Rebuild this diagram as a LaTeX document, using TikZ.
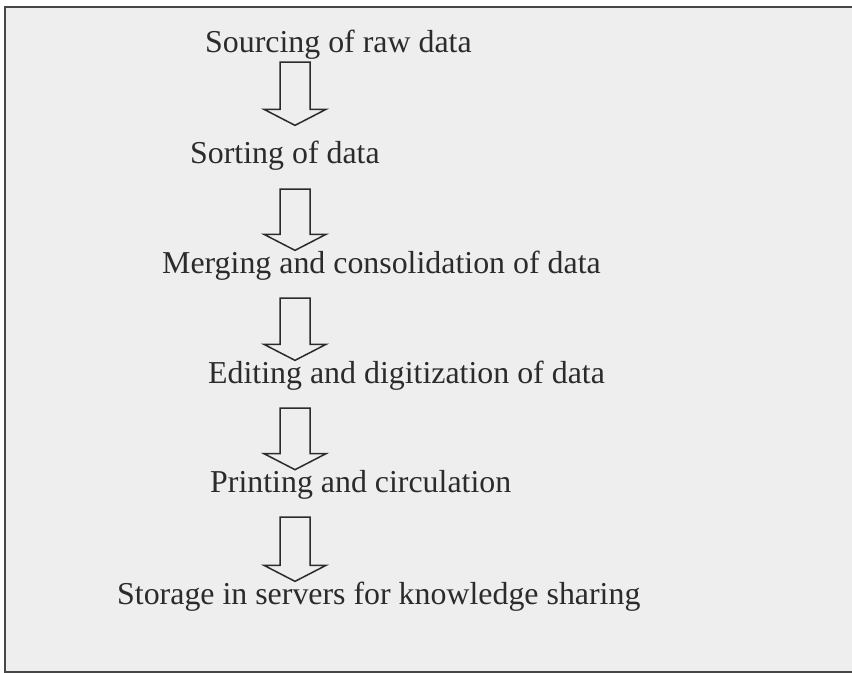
\documentclass[tikz,border=0pt]{standalone}
\usepackage{fontspec}
\setmainfont{Liberation Serif}
\usetikzlibrary{calc}

\definecolor{paper}{gray}{0.935}
\definecolor{ink}{gray}{0.17}
\definecolor{rule}{gray}{0.28}

\tikzset{
  stagetext/.style={anchor=base west,inner sep=0pt,text=ink,
    font=\fontsize{32}{38}\selectfont},
  flowarrow/.style={draw=ink,line width=1.5bp,line join=miter},
  frameline/.style={draw=rule,line width=2.2bp},
}

% hollow block arrow from #1 (tail) down to #2 (tip)
\newcommand\flowarrow[2]{%
  \draw[flowarrow] let \p1=#1, \p2=#2 in
    (\x1-15bp,\y1) -- (\x1-15bp,\y2+16bp) -- (\x1-31bp,\y2+16bp) -- (\x2,\y2)
    -- (\x1+31bp,\y2+16bp) -- (\x1+15bp,\y2+16bp) -- (\x1+15bp,\y1) -- cycle;}

\begin{document}
\begin{tikzpicture}[x=1bp,y=-1bp]
\useasboundingbox (0,0) rectangle (852,673);
\clip (0,0) rectangle (852,673);
\fill[white] (0,0) rectangle (852,673);
\fill[paper] (5,7) rectangle (870,672);
\draw[frameline] (5,7) rectangle (870,672);
%%
\node (sourcing) at (205,53) [stagetext] {Sourcing of raw data};
  \node (sorting) at (190,164) [stagetext] {Sorting of data};
  \node (merging) at (162,273) [stagetext] {Merging and consolidation of data};
  \node (editing) at (208,383) [stagetext] {Editing and digitization of data};
  \node (printing) at (210,492) [stagetext] {Printing and circulation};
  \node (storage) at (117,604) [stagetext] {Storage in servers for knowledge sharing};
  \coordinate (spine) at (295,0);
  \flowarrow{($(spine |- sourcing.south)+(0,2)$)}{($(spine |- sorting.north)+(0,-16)$)}
  \flowarrow{($(spine |- sorting.south)+(0,18)$)}{(spine |- merging.north)}
  \flowarrow{($(spine |- merging.south)+(0,18)$)}{(spine |- editing.north)}
  \flowarrow{($(spine |- editing.south)+(0,18)$)}{(spine |- printing.north)}
  \flowarrow{($(spine |- printing.south)+(0,18)$)}{(spine |- storage.north)}
%
\end{tikzpicture}
\end{document}
